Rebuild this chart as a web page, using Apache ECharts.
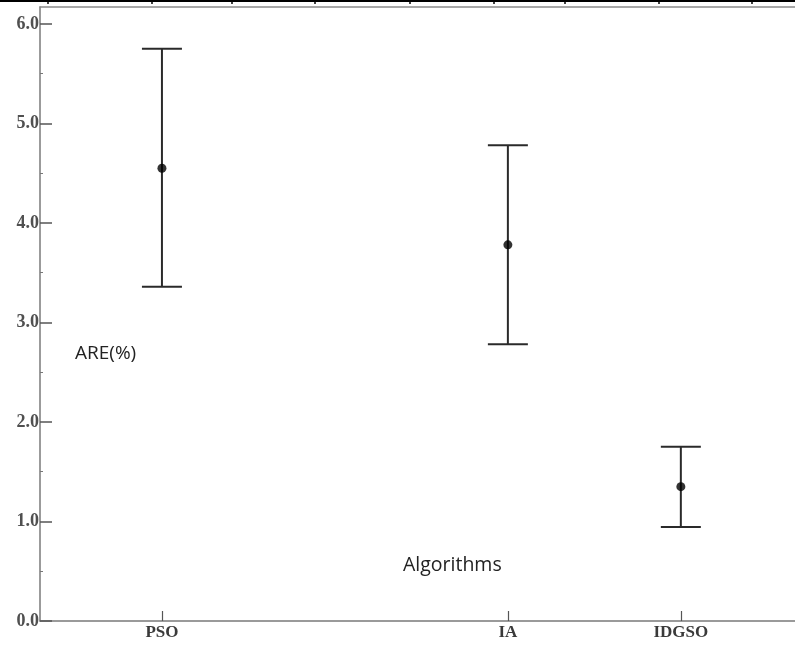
<!DOCTYPE html>
<html>
<head>
<meta charset="utf-8">
<script src="https://cdn.jsdelivr.net/npm/echarts@6/dist/echarts.min.js"></script>
<style>
html,body{margin:0;padding:0;background:#fff;}
#chart{width:795px;height:646px;}
</style>
</head>
<body>
<div id="chart"></div>
<script>
// ---- data ----
const categories = ['PSO', 'IA', 'IDGSO'];
const meanValues = [4.55, 3.78, 1.35];
const upperValues = [5.75, 4.78, 1.75];
const lowerValues = [3.36, 2.78, 0.945];
const yTickLabels = [0, 1, 2, 3, 4, 5, 6];
const yMinorTicks = [0.5, 1.5, 2.5, 3.5, 4.5, 5.5];

// category slot positions along the x scale (uneven spacing as in the figure)
const slots = [0, 4, 6];

const chart = echarts.init(document.getElementById('chart'), null, {renderer: 'canvas'});

const errData = categories.map((c, i) => [slots[i], lowerValues[i], upperValues[i]]);
const meanData = categories.map((c, i) => [slots[i], meanValues[i]]);

const axisGray = '#7a7a7a';
const labelStyle = {
  fontFamily: '"Liberation Serif", "DejaVu Serif", serif',
  fontWeight: 'bold',
  fontSize: 18,
  color: '#505050'
};

const topTicks = [48, 152, 232, 315, 410, 494, 565, 659, 752];

const option = {
  animation: false,
  backgroundColor: '#fff',
  grid: {left: 40, top: 7, right: 0, bottom: 25, containLabel: false},
  xAxis: [{
    type: 'value',
    min: -1.41,
    max: 7.32,
    splitLine: {show: false},
    axisLine: {show: true, onZero: false, lineStyle: {color: axisGray, width: 1.5}},
    axisTick: {show: true, inside: true, length: 10, customValues: slots, lineStyle: {color: '#555', width: 1.2}},
    axisLabel: {
      show: true, margin: 3, customValues: slots,
      formatter: v => { const i = slots.indexOf(Math.round(v)); return i >= 0 ? categories[i] : ''; },
      ...labelStyle, fontSize: 17, color: '#3a3a3a'
    }
  }, {
    type: 'value',
    position: 'top',
    min: -1.41,
    max: 7.32,
    splitLine: {show: false},
    axisLine: {show: true, onZero: false, lineStyle: {color: '#8a8a8a', width: 1.5}},
    axisTick: {show: false},
    axisLabel: {show: false}
  }],
  yAxis: [{
    type: 'value',
    min: 0,
    max: 6.17,
    interval: 1,
    splitLine: {show: false},
    axisLine: {show: true, onZero: false, lineStyle: {color: axisGray, width: 1.5}},
    axisTick: {show: true, inside: true, length: 12, customValues: yTickLabels, lineStyle: {color: '#555', width: 1.5}},
    axisLabel: {
      show: true, margin: 1, customValues: yTickLabels,
      formatter: v => v.toFixed(1),
      ...labelStyle
    }
  }, {
    type: 'value',
    position: 'left',
    min: 0,
    max: 6.17,
    splitLine: {show: false},
    axisLine: {show: false, onZero: false},
    axisTick: {show: true, inside: true, length: 3, customValues: yMinorTicks, lineStyle: {color: '#777', width: 1}},
    axisLabel: {show: false}
  }],
  series: [{
    type: 'custom',
    xAxisIndex: 0,
    yAxisIndex: 0,
    data: errData,
    renderItem: function (params, api) {
      const x = api.value(0);
      const lo = api.coord([x, api.value(1)]);
      const hi = api.coord([x, api.value(2)]);
      const hw = 20;
      const st = {stroke: '#2a2a2a', lineWidth: 2};
      return {
        type: 'group',
        children: [
          {type: 'line', shape: {x1: lo[0], y1: lo[1], x2: hi[0], y2: hi[1]}, style: st},
          {type: 'line', shape: {x1: hi[0] - hw, y1: hi[1], x2: hi[0] + hw, y2: hi[1]}, style: st},
          {type: 'line', shape: {x1: lo[0] - hw, y1: lo[1], x2: lo[0] + hw, y2: lo[1]}, style: st}
        ]
      };
    },
    z: 2
  }, {
    type: 'scatter',
    xAxisIndex: 0,
    yAxisIndex: 0,
    data: meanData,
    symbol: 'circle',
    symbolSize: 9,
    itemStyle: {color: '#000'},
    z: 3
  }],
  graphic: [
    {type: 'text', left: 75, top: 344, style: {text: 'ARE(%)', fontFamily: '"Open Sans", "Noto Sans", sans-serif', fontSize: 19, fill: '#222'}},
    {type: 'text', left: 403, top: 555, style: {text: 'Algorithms', fontFamily: '"Open Sans", "Noto Sans", sans-serif', fontSize: 19.5, fill: '#222'}},
    {type: 'line', shape: {x1: 0, y1: 1, x2: 795, y2: 1}, style: {stroke: '#000', lineWidth: 2}},
    ...topTicks.map(x => ({type: 'line', shape: {x1: x, y1: 0, x2: x, y2: 4}, style: {stroke: '#000', lineWidth: 1.5}}))
  ]
};

chart.setOption(option);
</script>
</body>
</html>
